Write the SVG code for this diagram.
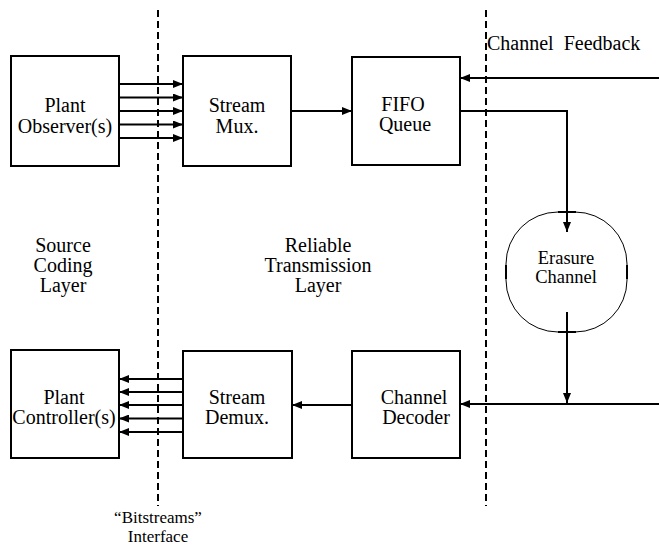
<svg xmlns="http://www.w3.org/2000/svg" width="659" height="546" viewBox="0 0 659 546">
<defs>
<style>
.box{fill:#fff;stroke:#000;stroke-width:2}
.ln{fill:none;stroke:#000;stroke-width:2}
.dash{fill:none;stroke:#000;stroke-width:2;stroke-dasharray:7 4}
text{font-family:"Liberation Serif","DejaVu Serif",serif;font-size:20px;fill:#000}
.c{text-anchor:middle}
.s{font-size:18.5px}
.t{font-size:17px}
</style>
<marker id="ah" viewBox="0 0 10 8" refX="10" refY="4" markerWidth="10" markerHeight="8" markerUnits="userSpaceOnUse" orient="auto">
<path d="M0,0 L10,4 L0,8 Z" fill="#000"/>
</marker>
</defs>
<rect width="659" height="546" fill="#fff"/>
<g id="dividers">
<line class="dash" x1="158" y1="10" x2="158" y2="506"/>
<line class="dash" x1="486" y1="10" x2="486" y2="506"/>
</g>
<g id="connectors">
<line class="ln" x1="119" y1="84" x2="183" y2="84" marker-end="url(#ah)"/>
<line class="ln" x1="119" y1="97.5" x2="183" y2="97.5" marker-end="url(#ah)"/>
<line class="ln" x1="119" y1="111" x2="183" y2="111" marker-end="url(#ah)"/>
<line class="ln" x1="119" y1="124.5" x2="183" y2="124.5" marker-end="url(#ah)"/>
<line class="ln" x1="119" y1="138" x2="183" y2="138" marker-end="url(#ah)"/>
<line class="ln" x1="291" y1="111" x2="352" y2="111" marker-end="url(#ah)"/>
<line class="ln" x1="659" y1="78" x2="460" y2="78" marker-end="url(#ah)"/>
<polyline class="ln" points="460,111 567,111 567,232" marker-end="url(#ah)"/>
<line class="ln" x1="567" y1="312" x2="567" y2="403" marker-end="url(#ah)"/>
<line class="ln" x1="659" y1="404" x2="460" y2="404" marker-end="url(#ah)"/>
<line class="ln" x1="352" y1="405" x2="292" y2="405" marker-end="url(#ah)"/>
<line class="ln" x1="183" y1="379" x2="119" y2="379" marker-end="url(#ah)"/>
<line class="ln" x1="183" y1="392" x2="119" y2="392" marker-end="url(#ah)"/>
<line class="ln" x1="183" y1="405" x2="119" y2="405" marker-end="url(#ah)"/>
<line class="ln" x1="183" y1="418.5" x2="119" y2="418.5" marker-end="url(#ah)"/>
<line class="ln" x1="183" y1="432" x2="119" y2="432" marker-end="url(#ah)"/>
</g>
<g id="plant-observer">
<rect class="box" x="11" y="56" width="108" height="110"/>
<text class="c" x="65" y="112">Plant</text>
<text class="c" x="65" y="133">Observer(s)</text>
</g>
<g id="stream-mux">
<rect class="box" x="183" y="56" width="108" height="110"/>
<text class="c" x="237" y="112">Stream</text>
<text class="c" x="237" y="133">Mux.</text>
</g>
<g id="fifo-queue">
<rect class="box" x="352" y="57" width="108" height="108"/>
<text class="c" x="403" y="111">FIFO</text>
<text class="c" x="405" y="131">Queue</text>
</g>
<g id="channel-feedback-label">
<text x="487" y="50" xml:space="preserve">Channel  Feedback</text>
</g>
<g id="erasure-channel">
<rect x="506" y="212" width="121" height="120" rx="52" ry="52" fill="none" stroke="#000" stroke-width="1"/>
<line class="ln" x1="506" y1="265" x2="506" y2="279"/>
<line class="ln" x1="627" y1="265" x2="627" y2="279"/>
<line class="ln" x1="558" y1="212" x2="576" y2="212"/>
<line class="ln" x1="558" y1="332" x2="576" y2="332"/>
<text class="c s" x="566" y="264">Erasure</text>
<text class="c s" x="566" y="283">Channel</text>
</g>
<g id="source-coding-layer">
<text class="c" x="63" y="252">Source</text>
<text class="c" x="63" y="272">Coding</text>
<text class="c" x="63" y="292">Layer</text>
</g>
<g id="reliable-transmission-layer">
<text class="c" x="318" y="252">Reliable</text>
<text class="c" x="318" y="272">Transmission</text>
<text class="c" x="318" y="292">Layer</text>
</g>
<g id="plant-controller">
<rect class="box" x="11" y="350" width="108" height="108"/>
<text class="c" x="64" y="404">Plant</text>
<text class="c" x="64" y="424">Controller(s)</text>
</g>
<g id="stream-demux">
<rect class="box" x="183" y="351" width="109" height="107"/>
<text class="c" x="237" y="404">Stream</text>
<text class="c" x="237" y="424">Demux.</text>
</g>
<g id="channel-decoder">
<rect class="box" x="352" y="351" width="108" height="107"/>
<text class="c" x="414" y="404">Channel</text>
<text class="c" x="416" y="424">Decoder</text>
</g>
<g id="bitstreams-interface">
<text class="c t" x="158" y="523">“Bitstreams”</text>
<text class="c t" x="158" y="542">Interface</text>
</g>
</svg>
